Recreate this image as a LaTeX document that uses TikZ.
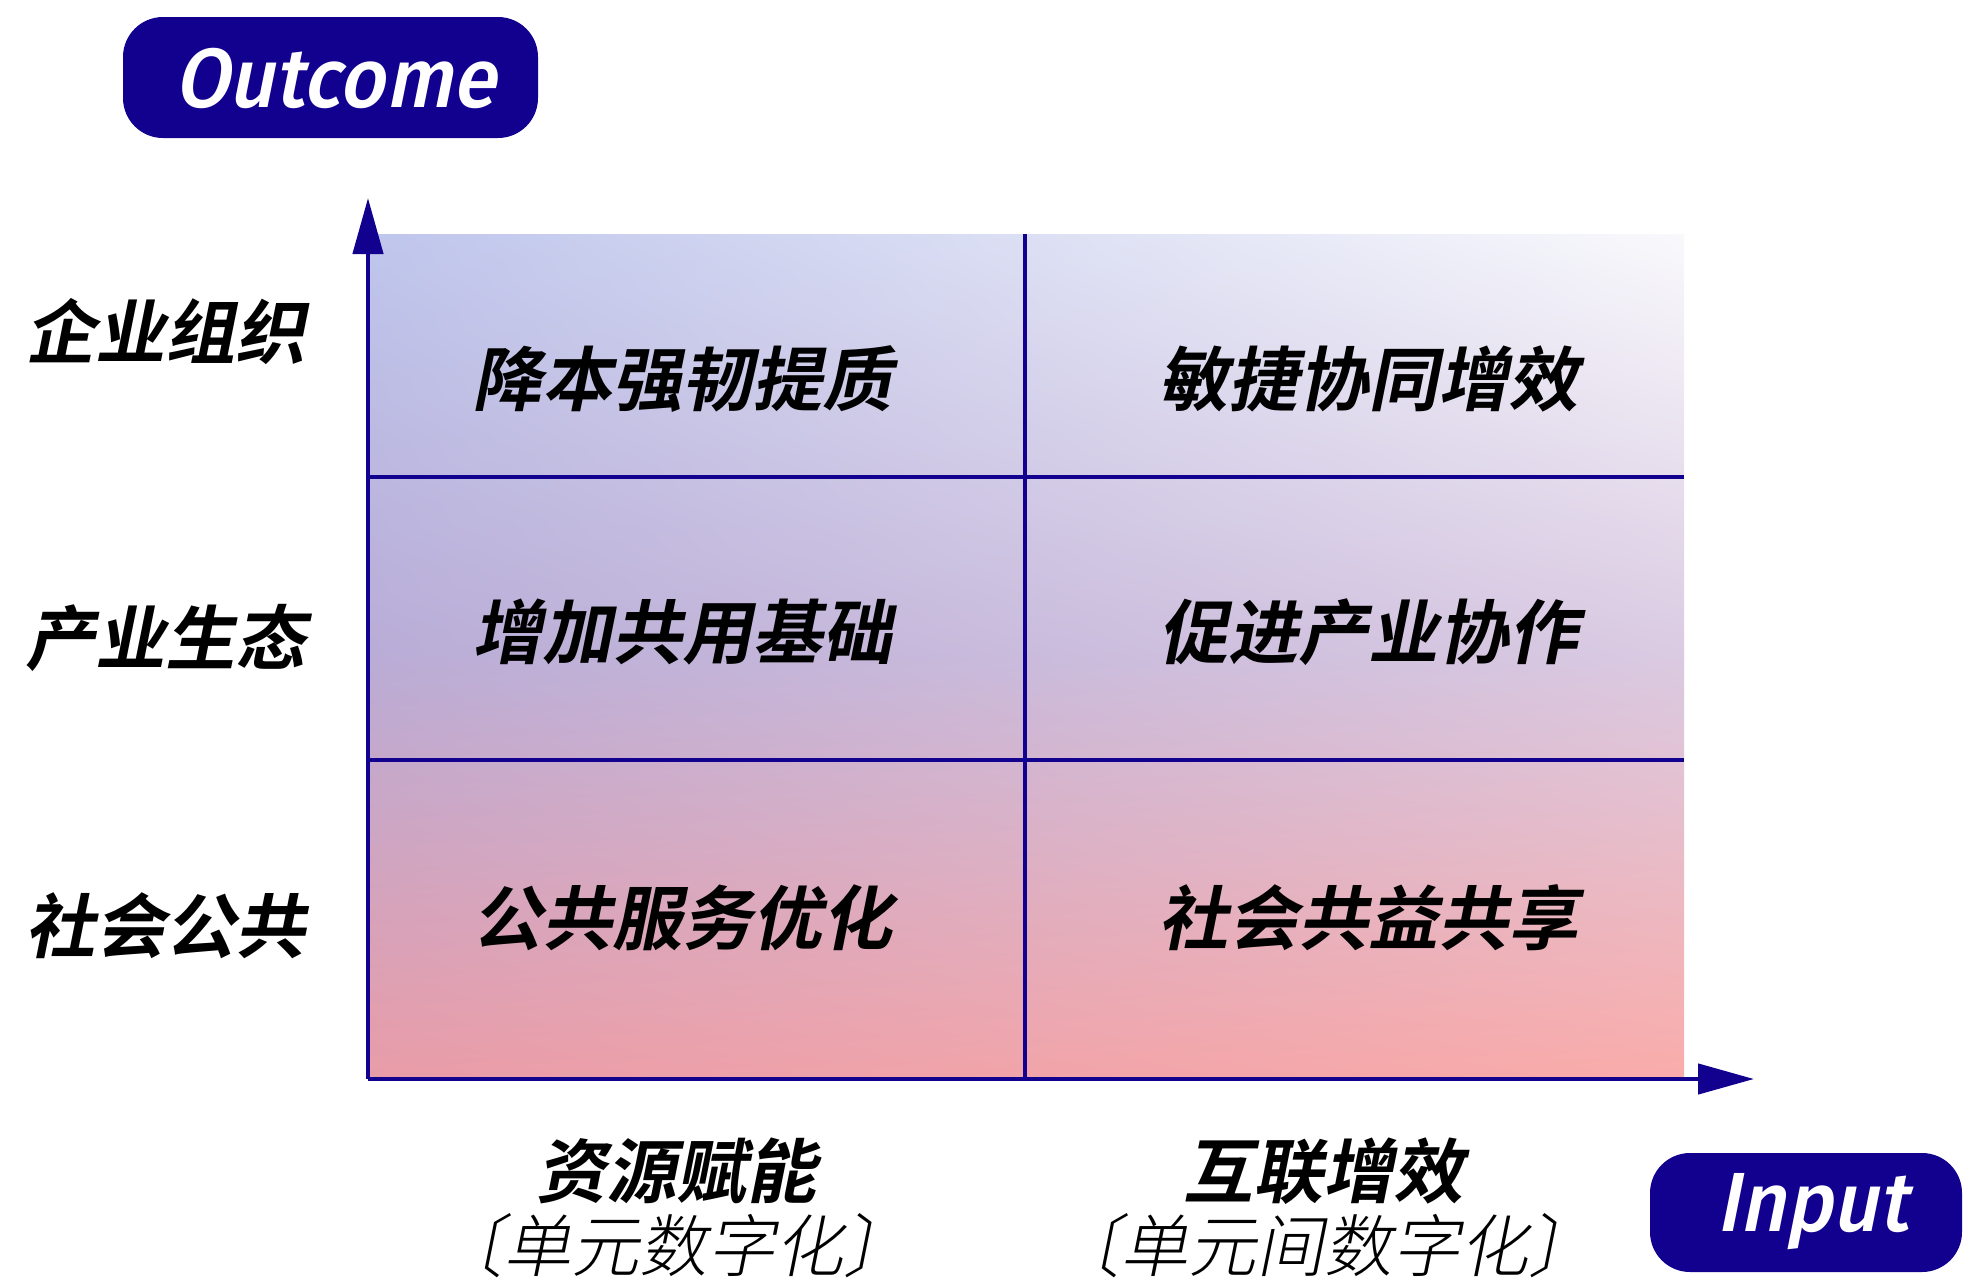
\documentclass[tikz,border=0pt]{standalone}
\usepackage{fontspec}
\usetikzlibrary{arrows.meta,shadings}
\newfontfamily\cjkb[FakeSlant=0.2,UprightFont={* Bold}]{Noto Sans CJK SC}
\newfontfamily\cjkl[FakeSlant=0.2,UprightFont={* Light}]{Noto Sans CJK SC}
\newfontfamily\latf[FakeSlant=0.2,FakeStretch=0.94,UprightFont={* Medium}]{Fira Sans}
\definecolor{navy}{RGB}{18,0,143}
\definecolor{gTL}{RGB}{191,198,236}
\definecolor{gTR}{RGB}{249,249,252}
\definecolor{gML}{RGB}{185,172,214}
\definecolor{gMR}{RGB}{218,202,226}
\definecolor{gBL}{RGB}{233,156,168}
\definecolor{gBR}{RGB}{250,172,170}
\tikzset{
  gridline/.style={draw=navy,line width=4.5pt},
  axisline/.style={draw=navy,line width=4.5pt,-{Triangle[length=56pt,width=30pt]}},
  cjkbig/.style={font=\cjkb\fontsize{70}{84}\selectfont,text=black,inner sep=0pt},
  cjksub/.style={font=\cjkl\fontsize{68}{80}\selectfont,text=black,inner sep=0pt},
  tagtext/.style={text=white,font=\latf\fontsize{84}{100}\selectfont,inner sep=0pt}
}
\begin{document}
\begin{tikzpicture}[x=1pt,y=-1pt]
\useasboundingbox (0,0) rectangle (1963,1283);
% gradient background
\shade[upper left=gTL,upper right=gTR,lower left=gML,lower right=gMR] (368,234) rectangle (1684,657);
\shade[upper left=gML,upper right=gMR,lower left=gBL,lower right=gBR] (368,656) rectangle (1684,1079);
% grid
\coordinate (h1l) at (368,477); \coordinate (h1r) at (1684,477);
\coordinate (h2l) at (368,760); \coordinate (h2r) at (1684,760);
\coordinate (vt) at (1025,234); \coordinate (vb) at (1025,1079);
\draw[gridline] (h1l) -- (h1r);
\draw[gridline] (h2l) -- (h2r);
\draw[gridline] (vt) -- (vb);
% axes
\coordinate (O) at (368,1079);
\coordinate (ytip) at (368,198);
\coordinate (xtip) at (1754,1079);
\draw[axisline] (O) -- (ytip);
\draw[axisline] (O) -- (xtip);
% tags
\fill[navy,rounded corners=40pt] (123,17) rectangle (538,138);
\node[tagtext] (outcome) at (335,78) {Outcome};
\fill[navy,rounded corners=40pt] (1650,1153) rectangle (1962,1272);
\node[tagtext] (input) at (1812,1212) {Input};
% row labels
\node[cjkbig] (r1) at (165,332) {企业组织};
\node[cjkbig] (r2) at (165,638) {产业生态};
\node[cjkbig] (r3) at (165,926) {社会公共};
% cells
\node[cjkbig] (c11) at (682,379) {降本强韧提质};
\node[cjkbig] (c12) at (1368,379) {敏捷协同增效};
\node[cjkbig] (c21) at (682,632) {增加共用基础};
\node[cjkbig] (c22) at (1368,632) {促进产业协作};
\node[cjkbig] (c31) at (682,918) {公共服务优化};
\node[cjkbig] (c32) at (1368,918) {社会共益共享};
% column labels
\node[cjkbig] (b1) at (676,1171) {资源赋能};
\node[cjksub] (b1s) at (673,1246) {〔单元数字化〕};
\node[cjkbig] (b2) at (1323,1171) {互联增效};
\node[cjksub] (b2s) at (1324,1246) {〔单元间数字化〕};
\end{tikzpicture}
\end{document}
